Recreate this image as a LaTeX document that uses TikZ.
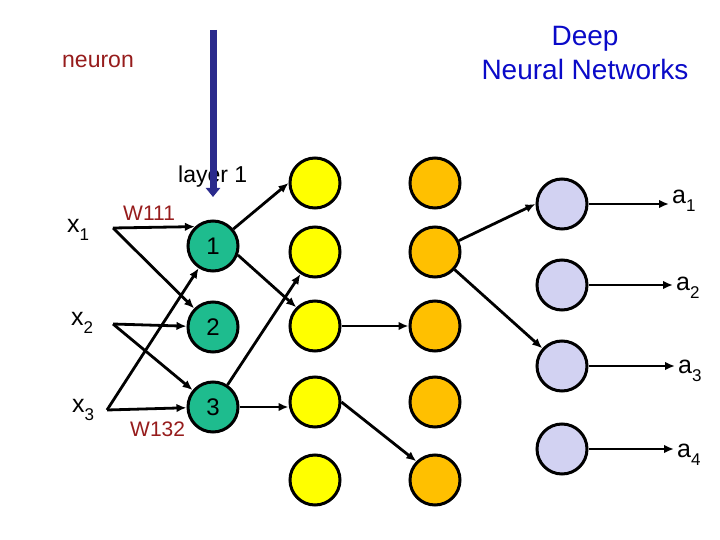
\documentclass[tikz,border=0pt]{standalone}
\usepackage{fontspec}
\setmainfont{Liberation Sans}
\usetikzlibrary{arrows.meta}
\definecolor{cellgreen}{RGB}{30,188,142}
\definecolor{cellyellow}{RGB}{255,255,0}
\definecolor{cellorange}{RGB}{255,192,0}
\definecolor{celllilac}{RGB}{210,210,242}
\definecolor{darkred}{RGB}{150,28,28}
\definecolor{titleblue}{RGB}{10,10,200}
\definecolor{barblue}{RGB}{42,42,140}
\newcommand{\lowix}[1]{\raisebox{-8pt}{\fontsize{17}{17}\selectfont #1}}
\begin{document}
\begin{tikzpicture}[x=1pt,y=-1pt,
  cell/.style={circle,draw,line width=3pt,minimum size=50pt,inner sep=0pt,font=\fontsize{24}{24}\selectfont},
  wire/.style={line width=2.8pt,-{Latex[length=10pt,width=8.5pt]}},
  lbl/.style={inner sep=0pt,anchor=base west,font=\fontsize{25}{25}\selectfont}]
\useasboundingbox (0,0) rectangle (720,540);
\node[text=darkred,inner sep=0pt,anchor=base west,font=\fontsize{23}{23}\selectfont] (neuron) at (62,68) {neuron};
\node[text=titleblue,align=center,font=\fontsize{28}{34}\selectfont] (title) at (585,53) {Deep\\Neural Networks};
\node[inner sep=0pt,anchor=base west,font=\fontsize{23}{23}\selectfont] (layer) at (178,183) {layer 1};
\coordinate (bartop) at (213,30);
\coordinate (barend) at (213,197);
\draw[barblue,line width=7pt,-{Triangle[length=9pt,width=14pt]}] (bartop) -- (barend);
\foreach \y [count=\i] in {246,327,407}
  \node[cell,fill=cellgreen] (g\i) at (213,\y) {\i};
\foreach \y [count=\i] in {183,252,326,402,480} {
  \node[cell,fill=cellyellow] (y\i) at (315,\y) {};
  \node[cell,fill=cellorange] (o\i) at (435,\y) {};
}
\foreach \y [count=\i] in {204,285,366,449}
  \node[cell,fill=celllilac] (l\i) at (562,\y) {};
\node[lbl] (x1) at (67,233) {x\lowix{1}};
\node[lbl] (x2) at (71,325) {x\lowix{2}};
\node[lbl] (x3) at (72,412) {x\lowix{3}};
\node[lbl] (a1) at (672,204) {a\lowix{1}};
\node[lbl] (a2) at (676,290) {a\lowix{2}};
\node[lbl] (a3) at (678,373) {a\lowix{3}};
\node[lbl] (a4) at (677,457) {a\lowix{4}};
\node[text=darkred,inner sep=0pt,anchor=base west,font=\fontsize{21}{21}\selectfont] (w111) at (123,221) {W111};
\node[text=darkred,inner sep=0pt,anchor=base west,font=\fontsize{21}{21}\selectfont] (w132) at (130,436) {W132};
\coordinate (in1) at (113,228);
\coordinate (in2) at (113,324);
\coordinate (in3) at (107,410);
\draw[wire] (in1) -- (g1.133);
\draw[wire] (in1) -- (g2);
\draw[wire] (in2) -- (g2);
\draw[wire] (in2) -- (g3);
\draw[wire] (in3) -- (g1);
\draw[wire] (in3) -- (g3);
\draw[wire] (g1) -- (y1.west);
\draw[wire] (g1.340) -- (y3.135);
\draw[wire] (g3) -- (y2);
\draw[wire] (g3.east) -- (g3.east -| y4.west);
\draw[wire] (y3) -- (o3);
\draw[wire] (y4.east) -- (o5.135);
\draw[wire] (o2) -- (l1.west);
\draw[wire] (o2) -- (l3);
\foreach \i in {1,...,4}
  \draw[wire,shorten >=3pt] (l\i.east) -- (l\i.east -| a\i.west);
\end{tikzpicture}
\end{document}
